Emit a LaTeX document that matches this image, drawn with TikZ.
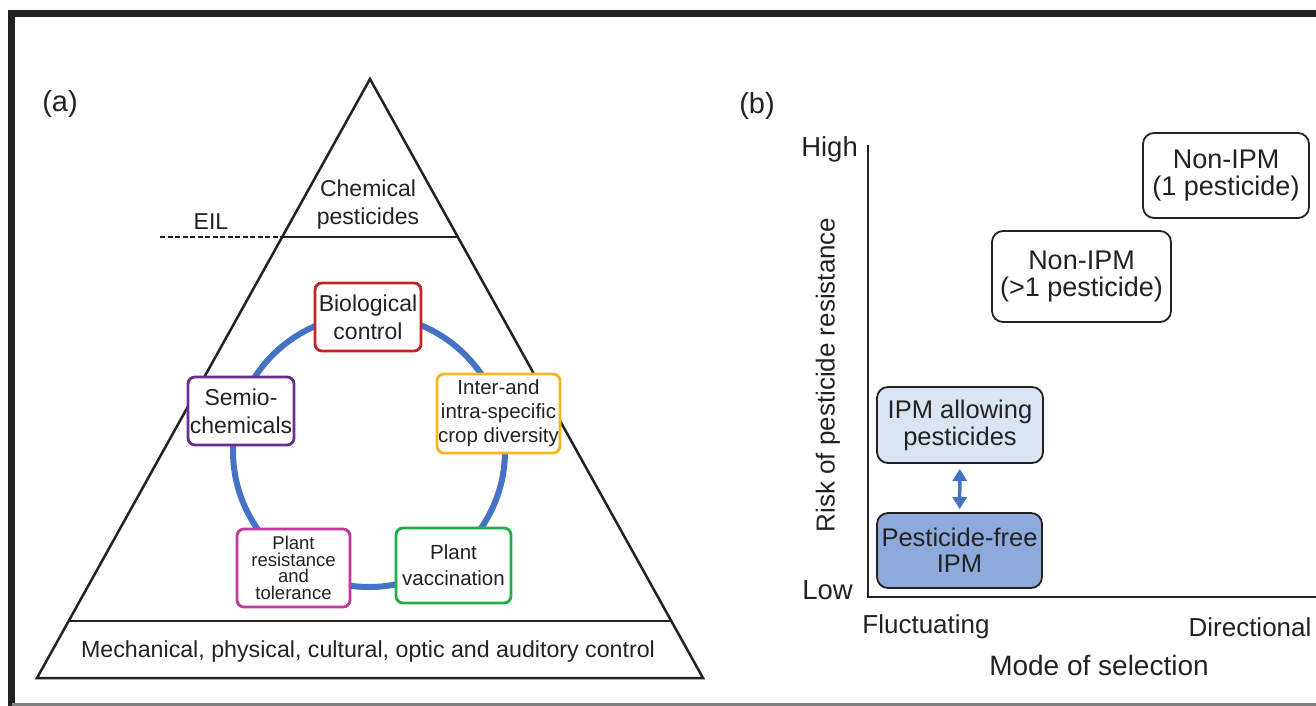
\documentclass[tikz,border=0pt]{standalone}
\usepackage{fontspec}
\setmainfont{Liberation Sans}
\usetikzlibrary{arrows.meta}
\definecolor{ink}{RGB}{34,34,34}
\definecolor{ringblue}{RGB}{68,114,196}
\definecolor{bioRed}{RGB}{196,36,40}
\definecolor{semioPurple}{RGB}{107,45,143}
\definecolor{cropOrange}{RGB}{247,181,35}
\definecolor{resMagenta}{RGB}{193,57,154}
\definecolor{vacGreen}{RGB}{34,173,74}
\definecolor{paleBlue}{RGB}{218,229,243}
\definecolor{midBlue}{RGB}{142,169,219}
\tikzset{
  ctl/.style={draw, line width=2.8pt, rounded corners=7pt, fill=white, align=center, inner sep=0pt, text=ink},
  ipm/.style={draw=ink, line width=1.8pt, rounded corners=11pt, fill=white, align=center, inner sep=0pt, text=ink},
  lbl/.style={text=ink, inner sep=0pt, align=center}
}
\begin{document}
\begin{tikzpicture}[x=1pt,y=-1pt]
\useasboundingbox (0,0) rectangle (1316,706);
\draw[ink, line width=6.7pt] (11.5,706) -- (11.5,13.5) -- (1316,13.5);
\draw[gray, line width=2.5pt] (11.5,704.5) -- (1316,704.5);
\node[lbl, font=\fontsize{29}{34}\selectfont] (panelA) at (60,104) {(a)};
\node[lbl, font=\fontsize{29}{34}\selectfont] (panelB) at (757,106) {(b)};
\coordinate (apex) at (370,79);
\coordinate (baseL) at (37,678);
\coordinate (baseR) at (703,678);
\draw[ink, line width=2.5pt, line join=miter] (apex) -- (baseL) -- (baseR) -- cycle;
\coordinate (eilL) at (282,237);
\coordinate (eilR) at (458,237);
\coordinate (eilEnd) at (160,237);
\draw[ink, line width=2.5pt] (eilL) -- (eilR);
\draw[ink, line width=2.5pt, dash pattern=on 5pt off 2.5pt] (eilEnd) -- (eilL);
\coordinate (mecL) at (68.7,621);
\coordinate (mecR) at (671.3,621);
\draw[ink, line width=2.5pt] (mecL) -- (mecR);
\node[lbl, font=\fontsize{23}{28}\selectfont] (eil) at (211,222) {EIL};
\node[lbl, font=\fontsize{23}{28}\selectfont] (chem) at (368,205) {Chemical\\pesticides};
\node[lbl, font=\fontsize{23.2}{28}\selectfont] (mech) at (368,651) {Mechanical, physical, cultural, optic and auditory control};
\coordinate (hub) at (369,451);
\draw[ringblue, line width=6pt] (hub) circle[radius=136pt];
\node[ctl, draw=bioRed, minimum width=106pt, minimum height=68pt, font=\fontsize{23}{28}\selectfont] (bio) at (368,317) {Biological\\control};
\node[ctl, draw=semioPurple, minimum width=106pt, minimum height=68pt, font=\fontsize{23}{28}\selectfont] (semio) at (241,411) {Semio-\\chemicals};
\node[ctl, draw=cropOrange, minimum width=123pt, minimum height=79pt, font=\fontsize{20.5}{24}\selectfont] (crop) at (498.5,413.5) {Inter-and\\intra-specific\\crop diversity};
\node[ctl, draw=resMagenta, minimum width=113pt, minimum height=78pt, font=\fontsize{18.5}{16.5}\selectfont] (resist) at (293.5,568) {Plant\\resistance\\and\\tolerance};
\node[ctl, draw=vacGreen, minimum width=115pt, minimum height=75pt, font=\fontsize{20.5}{26}\selectfont] (vacc) at (453.5,565.5) {Plant\\vaccination};
\coordinate (yTop) at (868,145);
\coordinate (origin) at (868,597);
\coordinate (xEnd) at (1316,597);
\draw[ink, line width=2.8pt] (yTop) -- (origin) -- (xEnd);
\node[lbl, anchor=east, font=\fontsize{27.5}{32}\selectfont] (high) at (858,149) {High};
\node[lbl, anchor=east, font=\fontsize{27.5}{32}\selectfont] (low) at (853,590) {Low};
\node[lbl, font=\fontsize{26}{31}\selectfont] (fluct) at (926,627) {Fluctuating};
\node[lbl, font=\fontsize{26}{31}\selectfont] (direc) at (1250,627) {Directional};
\node[lbl, font=\fontsize{28}{33}\selectfont] (mode) at (1099,665) {Mode of selection};
\node[lbl, rotate=90, font=\fontsize{26}{31}\selectfont] (risk) at (828,375) {Risk of pesticide resistance};
\node[ipm, minimum width=166pt, minimum height=85pt, font=\fontsize{27}{27}\selectfont] (single) at (1226,175.5) {Non-IPM\\(1 pesticide)};
\node[ipm, minimum width=179pt, minimum height=91pt, font=\fontsize{27}{27}\selectfont] (multi) at (1081.5,276.5) {Non-IPM\\(\textgreater1 pesticide)};
\node[ipm, fill=paleBlue, minimum width=166pt, minimum height=76pt, font=\fontsize{25.5}{27}\selectfont] (allow) at (960,425) {IPM allowing\\pesticides};
\node[ipm, fill=midBlue, minimum width=165pt, minimum height=75pt, font=\fontsize{25.5}{26}\selectfont] (free) at (959.5,550.5) {Pesticide-free\\IPM};
\draw[ringblue, line width=3.5pt, {Triangle[width=14pt,length=12pt]}-{Triangle[width=14pt,length=12pt]}, shorten <=5pt, shorten >=3pt] (allow) -- (free);
\end{tikzpicture}
\end{document}
